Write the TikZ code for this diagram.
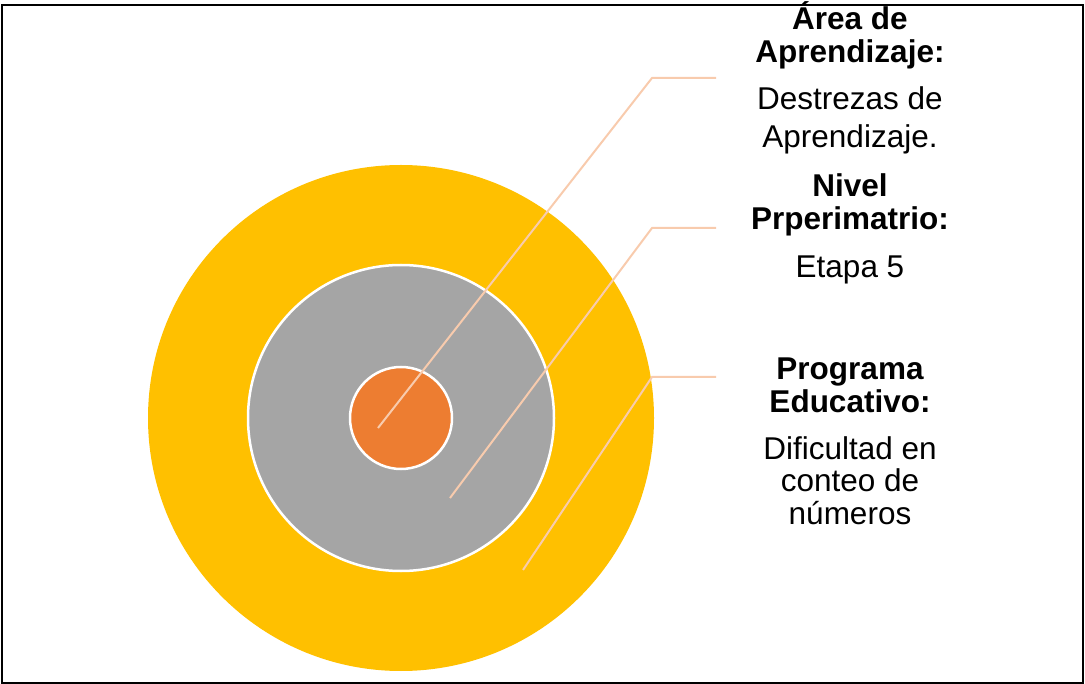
\documentclass[tikz,border=0pt]{standalone}
\usepackage{fontspec}
\setmainfont{Liberation Sans}
\usetikzlibrary{positioning}
\definecolor{ringgold}{HTML}{FFC000}
\definecolor{ringgray}{HTML}{A5A5A5}
\definecolor{ringorange}{HTML}{ED7D31}
\definecolor{leadpink}{HTML}{F8CBAD}
\tikzstyle{ring} = [circle, draw=white, line width=2.5pt, inner sep=0pt]
\tikzstyle{leader} = [draw=leadpink, line width=2pt]
\tikzstyle{head} = [font=\bfseries\fontsize{31.5}{33}\selectfont, align=center,
    inner sep=0pt, anchor=base]
\tikzstyle{body} = [font=\fontsize{31.5}{33}\selectfont, align=center,
    inner sep=0pt, anchor=base]

\begin{document}
\begin{tikzpicture}[x=1pt,y=-1pt]
  \useasboundingbox (0,0) rectangle (1085,684);
  \draw[line width=1.5pt] (2,5) rectangle (1083,683);

  \node[ring, fill=ringgold, draw=none, minimum size=506pt] (outer)  at (401,418) {};
  \node[ring, fill=ringgray, minimum size=306pt]            (middle) at (401,418) {};
  \node[ring, fill=ringorange, minimum size=102pt]          (inner)  at (401,418) {};

  \coordinate (a1) at (378,428);
  \coordinate (k1) at (652,78);
  \coordinate (e1) at (716,78);
  \coordinate (a2) at (450,498);
  \coordinate (k2) at (652,228);
  \coordinate (e2) at (716,228);
  \coordinate (a3) at (523,570);
  \coordinate (k3) at (652,377);
  \coordinate (e3) at (716,377);

  \draw[leader] (a1) -- (k1) -- (e1);
  \draw[leader] (a2) -- (k2) -- (e2);
  \draw[leader] (a3) -- (k3) -- (e3);

  % anchor=base sits on the last line
  \node[head] (area)   at (850,63)  {Área de\\Aprendizaje:};
  \node[body, font=\fontsize{31.5}{38}\selectfont] (dest) at (850,148) {Destrezas de\\Aprendizaje.};
  \node[head] (nivel)  at (850,230) {Nivel\\Prperimatrio:};
  \node[body] (etapa)  at (850,278) {Etapa 5};
  \node[head] (prog)   at (850,413) {Programa\\Educativo:};
  \node[body] (dific)  at (850,525) {Dificultad en\\conteo de\\números};
\end{tikzpicture}
\end{document}
